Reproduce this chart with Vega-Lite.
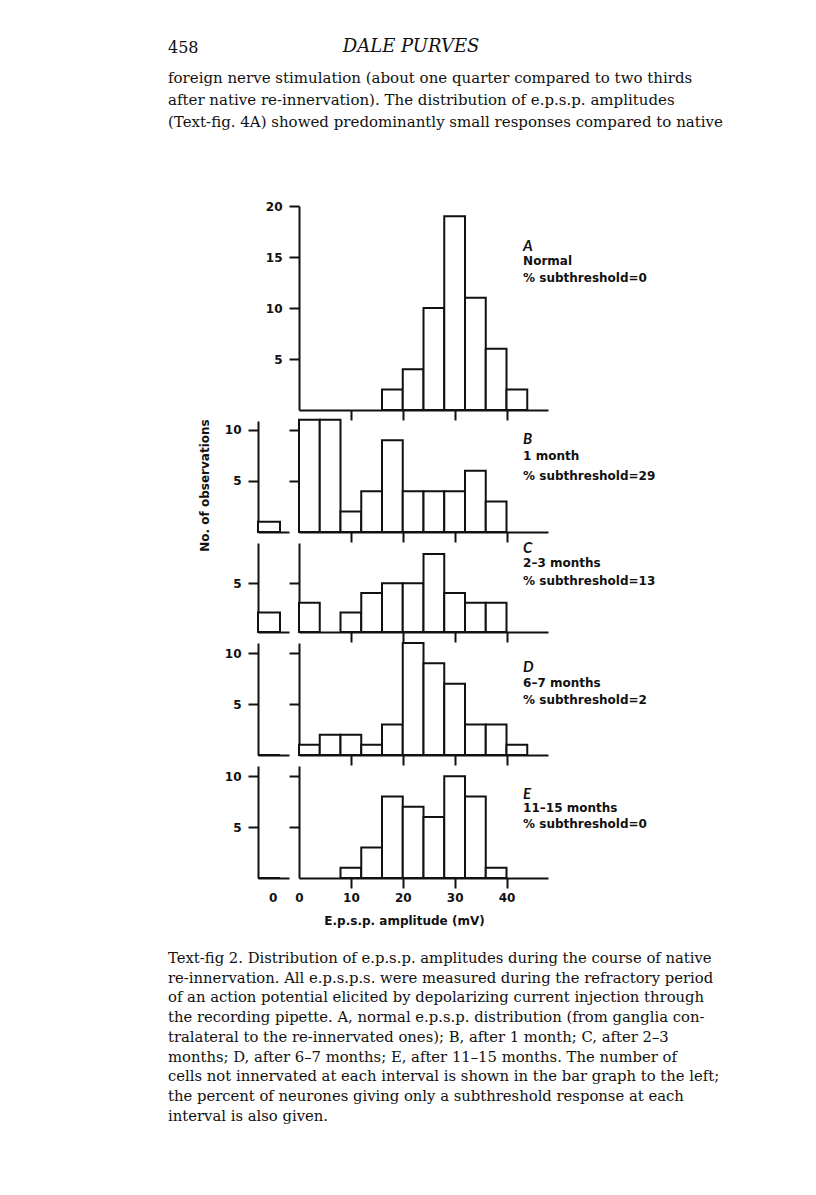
{
  "$schema": "https://vega.github.io/schema/vega-lite/v6.json",
  "background": "white",
  "padding": {"left": 168, "top": 38, "right": 10, "bottom": 10},
  "columns": 3,
  "bounds": "flush",
  "align": "each",
  "spacing": {"row": 11, "column": 10},
  "datasets": {
    "bars": [
      {"p": "A", "x0": 16, "x1": 20, "n": 2}, {"p": "A", "x0": 20, "x1": 24, "n": 4}, {"p": "A", "x0": 24, "x1": 28, "n": 10},
      {"p": "A", "x0": 28, "x1": 32, "n": 19}, {"p": "A", "x0": 32, "x1": 36, "n": 11}, {"p": "A", "x0": 36, "x1": 40, "n": 6},
      {"p": "A", "x0": 40, "x1": 44, "n": 2},
      {"p": "B", "x0": 0, "x1": 4, "n": 11}, {"p": "B", "x0": 4, "x1": 8, "n": 11}, {"p": "B", "x0": 8, "x1": 12, "n": 2},
      {"p": "B", "x0": 12, "x1": 16, "n": 4}, {"p": "B", "x0": 16, "x1": 20, "n": 9}, {"p": "B", "x0": 20, "x1": 24, "n": 4},
      {"p": "B", "x0": 24, "x1": 28, "n": 4}, {"p": "B", "x0": 28, "x1": 32, "n": 4}, {"p": "B", "x0": 32, "x1": 36, "n": 6},
      {"p": "B", "x0": 36, "x1": 40, "n": 3},
      {"p": "C", "x0": 0, "x1": 4, "n": 3}, {"p": "C", "x0": 8, "x1": 12, "n": 2}, {"p": "C", "x0": 12, "x1": 16, "n": 4},
      {"p": "C", "x0": 16, "x1": 20, "n": 5}, {"p": "C", "x0": 20, "x1": 24, "n": 5}, {"p": "C", "x0": 24, "x1": 28, "n": 8},
      {"p": "C", "x0": 28, "x1": 32, "n": 4}, {"p": "C", "x0": 32, "x1": 36, "n": 3}, {"p": "C", "x0": 36, "x1": 40, "n": 3},
      {"p": "D", "x0": 0, "x1": 4, "n": 1}, {"p": "D", "x0": 4, "x1": 8, "n": 2}, {"p": "D", "x0": 8, "x1": 12, "n": 2},
      {"p": "D", "x0": 12, "x1": 16, "n": 1}, {"p": "D", "x0": 16, "x1": 20, "n": 3}, {"p": "D", "x0": 20, "x1": 24, "n": 11},
      {"p": "D", "x0": 24, "x1": 28, "n": 9}, {"p": "D", "x0": 28, "x1": 32, "n": 7}, {"p": "D", "x0": 32, "x1": 36, "n": 3},
      {"p": "D", "x0": 36, "x1": 40, "n": 3}, {"p": "D", "x0": 40, "x1": 44, "n": 1},
      {"p": "E", "x0": 8, "x1": 12, "n": 1}, {"p": "E", "x0": 12, "x1": 16, "n": 3}, {"p": "E", "x0": 16, "x1": 20, "n": 8},
      {"p": "E", "x0": 20, "x1": 24, "n": 7}, {"p": "E", "x0": 24, "x1": 28, "n": 6}, {"p": "E", "x0": 28, "x1": 32, "n": 10},
      {"p": "E", "x0": 32, "x1": 36, "n": 8}, {"p": "E", "x0": 36, "x1": 40, "n": 1}
    ],
    "notinn": [
      {"p": "B", "x0": 0, "x1": 4, "n": 1},
      {"p": "C", "x0": 0, "x1": 4, "n": 2},
      {"p": "D", "x0": 0, "x1": 4, "n": 0},
      {"p": "E", "x0": 0, "x1": 4, "n": 0}
    ],
    "notes": [
      {"p": "A", "kind": "letter", "x": 43.2, "y": 16.08, "t": "A"},
      {"p": "A", "kind": "line", "x": 43.2, "y": 14.6, "t": "Normal"},
      {"p": "A", "kind": "line", "x": 43.2, "y": 12.97, "t": "% subthreshold=0"},
      {"p": "B", "kind": "letter", "x": 43.2, "y": 9.12, "t": "B"},
      {"p": "B", "kind": "line", "x": 43.2, "y": 7.45, "t": "1 month"},
      {"p": "B", "kind": "line", "x": 43.2, "y": 5.49, "t": "% subthreshold=29"},
      {"p": "C", "kind": "letter", "x": 43.2, "y": 8.66, "t": "C"},
      {"p": "C", "kind": "line", "x": 43.2, "y": 7.11, "t": "2–3 months"},
      {"p": "C", "kind": "line", "x": 43.2, "y": 5.24, "t": "% subthreshold=13"},
      {"p": "D", "kind": "letter", "x": 43.2, "y": 8.61, "t": "D"},
      {"p": "D", "kind": "line", "x": 43.2, "y": 7.08, "t": "6–7 months"},
      {"p": "D", "kind": "line", "x": 43.2, "y": 5.44, "t": "% subthreshold=2"},
      {"p": "E", "kind": "letter", "x": 43.2, "y": 8.24, "t": "E"},
      {"p": "E", "kind": "line", "x": 43.2, "y": 6.92, "t": "11–15 months"},
      {"p": "E", "kind": "line", "x": 43.2, "y": 5.29, "t": "% subthreshold=0"}
    ]
  },
  "concat": [
    {
      "width": 80,
      "height": 139,
      "layer": [
        {
          "data": {"values": [{"line": 0, "text": "458"}]},
          "mark": {"type": "text", "align": "left", "baseline": "bottom", "font": "DejaVu Serif", "fontSize": 16, "color": "#111"},
          "encoding": {
            "x": {"datum": 0, "type": "quantitative", "scale": {"domain": [0, 1], "range": [0, 532]}, "axis": null},
            "y": {"field": "line", "type": "quantitative", "scale": {"domain": [0, 6.318], "reverse": true, "nice": false}, "axis": null},
            "text": {"field": "text"}
          }
        },
        {
          "data": {"values": [{"line": 0, "text": "DALE PURVES"}]},
          "mark": {"type": "text", "align": "center", "baseline": "bottom", "font": "DejaVu Serif", "fontStyle": "italic", "fontSize": 18, "color": "#111"},
          "encoding": {
            "x": {"datum": 0.457, "type": "quantitative", "scale": {"domain": [0, 1], "range": [0, 532]}, "axis": null},
            "y": {"field": "line", "type": "quantitative", "scale": {"domain": [0, 6.318], "reverse": true, "nice": false}, "axis": null},
            "text": {"field": "text"}
          }
        },
        {
          "data": {"values": [
            {"line": 1, "text": "foreign nerve stimulation (about one quarter compared to two thirds"},
            {"line": 2, "text": "after native re-innervation). The distribution of e.p.s.p. amplitudes"},
            {"line": 3, "text": "(Text-fig. 4A) showed predominantly small responses compared to native"}
          ]},
          "mark": {"type": "text", "align": "left", "baseline": "middle", "font": "DejaVu Serif", "fontSize": 15, "color": "#111"},
          "encoding": {
            "x": {"datum": 0, "type": "quantitative", "scale": {"domain": [0, 1], "range": [0, 532]}, "axis": null},
            "y": {"field": "line", "type": "quantitative", "scale": {"domain": [0, 6.318], "reverse": true, "nice": false}, "axis": null},
            "text": {"field": "text"}
          }
        }
      ]
    },
    {"width": 31, "height": 1, "data": {"values": []}, "mark": "point"},
    {"width": 249, "height": 1, "data": {"values": []}, "mark": "point"},

    {"width": 80, "height": 1, "data": {"values": []}, "mark": "point"},
    {"width": 31, "height": 1, "data": {"values": []}, "mark": "point"},
    {
      "width": 249, "height": 204,
      "layer": [
        {
          "data": {"name": "bars"}, "transform": [{"filter": "datum.p === 'A'"}],
          "mark": {"type": "bar", "fill": "white", "stroke": "#111", "strokeWidth": 2},
          "encoding": {
            "x": {"field": "x0", "type": "quantitative", "scale": {"domain": [0, 48], "nice": false, "zero": false}, "axis": {"values": [10, 20, 30, 40], "labels": false, "title": null}},
            "x2": {"field": "x1"},
            "y": {"field": "n", "type": "quantitative", "scale": {"domain": [0, 20], "nice": false}, "axis": {"values": [5, 10, 15, 20], "title": null}},
            "y2": {"datum": 0}
          }
        },
        {
          "data": {"name": "notes"}, "transform": [{"filter": "datum.p === 'A' && datum.kind === 'letter'"}],
          "mark": {"type": "text", "align": "left", "baseline": "middle", "font": "Lato", "fontStyle": "italic", "fontWeight": "bold", "fontSize": 15, "color": "#111"},
          "encoding": {
            "x": {"field": "x", "type": "quantitative", "title": null},
            "y": {"field": "y", "type": "quantitative", "title": null},
            "text": {"field": "t"}
          }
        },
        {
          "data": {"name": "notes"}, "transform": [{"filter": "datum.p === 'A' && datum.kind === 'line'"}],
          "mark": {"type": "text", "align": "left", "baseline": "middle", "font": "DejaVu Sans", "fontWeight": "bold", "fontSize": 12, "color": "#111"},
          "encoding": {
            "x": {"field": "x", "type": "quantitative", "title": null},
            "y": {"field": "y", "type": "quantitative", "title": null},
            "text": {"field": "t"}
          }
        }
      ]
    },

    {"width": 80, "height": 1, "data": {"values": []}, "mark": "point"},
    {
      "width": 31, "height": 111,
      "data": {"name": "notinn"}, "transform": [{"filter": "datum.p === 'B'"}],
      "mark": {"type": "bar", "fill": "white", "stroke": "#111", "strokeWidth": 2},
      "encoding": {
        "x": {"field": "x0", "type": "quantitative", "scale": {"domain": [0, 5.64], "nice": false, "zero": false}, "axis": {"ticks": false, "labels": false, "title": null}},
        "x2": {"field": "x1"},
        "y": {"field": "n", "type": "quantitative", "scale": {"domain": [0, 10.88], "nice": false}, "axis": {"values": [5, 10], "title": "No. of observations", "titlePadding": 13, "titleY": 64}},
        "y2": {"datum": 0}
      }
    },
    {
      "width": 249, "height": 111,
      "layer": [
        {
          "data": {"name": "bars"}, "transform": [{"filter": "datum.p === 'B'"}],
          "mark": {"type": "bar", "fill": "white", "stroke": "#111", "strokeWidth": 2},
          "encoding": {
            "x": {"field": "x0", "type": "quantitative", "scale": {"domain": [0, 48], "nice": false, "zero": false}, "axis": {"values": [10, 20, 30, 40], "labels": false, "title": null}},
            "x2": {"field": "x1"},
            "y": {"field": "n", "type": "quantitative", "scale": {"domain": [0, 10.88], "nice": false}, "axis": {"values": [5, 10], "labels": false, "title": null}},
            "y2": {"datum": 0}
          }
        },
        {
          "data": {"name": "notes"}, "transform": [{"filter": "datum.p === 'B' && datum.kind === 'letter'"}],
          "mark": {"type": "text", "align": "left", "baseline": "middle", "font": "Lato", "fontStyle": "italic", "fontWeight": "bold", "fontSize": 15, "color": "#111"},
          "encoding": {
            "x": {"field": "x", "type": "quantitative", "title": null},
            "y": {"field": "y", "type": "quantitative", "title": null},
            "text": {"field": "t"}
          }
        },
        {
          "data": {"name": "notes"}, "transform": [{"filter": "datum.p === 'B' && datum.kind === 'line'"}],
          "mark": {"type": "text", "align": "left", "baseline": "middle", "font": "DejaVu Sans", "fontWeight": "bold", "fontSize": 12, "color": "#111"},
          "encoding": {
            "x": {"field": "x", "type": "quantitative", "title": null},
            "y": {"field": "y", "type": "quantitative", "title": null},
            "text": {"field": "t"}
          }
        }
      ]
    },

    {"width": 80, "height": 1, "data": {"values": []}, "mark": "point"},
    {
      "width": 31, "height": 89,
      "data": {"name": "notinn"}, "transform": [{"filter": "datum.p === 'C'"}],
      "mark": {"type": "bar", "fill": "white", "stroke": "#111", "strokeWidth": 2},
      "encoding": {
        "x": {"field": "x0", "type": "quantitative", "scale": {"domain": [0, 5.64], "nice": false, "zero": false}, "axis": {"ticks": false, "labels": false, "title": null}},
        "x2": {"field": "x1"},
        "y": {"field": "n", "type": "quantitative", "scale": {"domain": [0, 9.14], "nice": false}, "axis": {"values": [5], "title": null}},
        "y2": {"datum": 0}
      }
    },
    {
      "width": 249, "height": 89,
      "layer": [
        {
          "data": {"name": "bars"}, "transform": [{"filter": "datum.p === 'C'"}],
          "mark": {"type": "bar", "fill": "white", "stroke": "#111", "strokeWidth": 2},
          "encoding": {
            "x": {"field": "x0", "type": "quantitative", "scale": {"domain": [0, 48], "nice": false, "zero": false}, "axis": {"values": [10, 20, 30, 40], "labels": false, "title": null}},
            "x2": {"field": "x1"},
            "y": {"field": "n", "type": "quantitative", "scale": {"domain": [0, 9.14], "nice": false}, "axis": {"values": [5], "labels": false, "title": null}},
            "y2": {"datum": 0}
          }
        },
        {
          "data": {"name": "notes"}, "transform": [{"filter": "datum.p === 'C' && datum.kind === 'letter'"}],
          "mark": {"type": "text", "align": "left", "baseline": "middle", "font": "Lato", "fontStyle": "italic", "fontWeight": "bold", "fontSize": 15, "color": "#111"},
          "encoding": {
            "x": {"field": "x", "type": "quantitative", "title": null},
            "y": {"field": "y", "type": "quantitative", "title": null},
            "text": {"field": "t"}
          }
        },
        {
          "data": {"name": "notes"}, "transform": [{"filter": "datum.p === 'C' && datum.kind === 'line'"}],
          "mark": {"type": "text", "align": "left", "baseline": "middle", "font": "DejaVu Sans", "fontWeight": "bold", "fontSize": 12, "color": "#111"},
          "encoding": {
            "x": {"field": "x", "type": "quantitative", "title": null},
            "y": {"field": "y", "type": "quantitative", "title": null},
            "text": {"field": "t"}
          }
        }
      ]
    },

    {"width": 80, "height": 1, "data": {"values": []}, "mark": "point"},
    {
      "width": 31, "height": 112,
      "data": {"name": "notinn"}, "transform": [{"filter": "datum.p === 'D'"}],
      "mark": {"type": "bar", "fill": "white", "stroke": "#111", "strokeWidth": 2},
      "encoding": {
        "x": {"field": "x0", "type": "quantitative", "scale": {"domain": [0, 5.64], "nice": false, "zero": false}, "axis": {"ticks": false, "labels": false, "title": null}},
        "x2": {"field": "x1"},
        "y": {"field": "n", "type": "quantitative", "scale": {"domain": [0, 11], "nice": false}, "axis": {"values": [5, 10], "title": null}},
        "y2": {"datum": 0}
      }
    },
    {
      "width": 249, "height": 112,
      "layer": [
        {
          "data": {"name": "bars"}, "transform": [{"filter": "datum.p === 'D'"}],
          "mark": {"type": "bar", "fill": "white", "stroke": "#111", "strokeWidth": 2},
          "encoding": {
            "x": {"field": "x0", "type": "quantitative", "scale": {"domain": [0, 48], "nice": false, "zero": false}, "axis": {"values": [10, 20, 30, 40], "labels": false, "title": null}},
            "x2": {"field": "x1"},
            "y": {"field": "n", "type": "quantitative", "scale": {"domain": [0, 11], "nice": false}, "axis": {"values": [5, 10], "labels": false, "title": null}},
            "y2": {"datum": 0}
          }
        },
        {
          "data": {"name": "notes"}, "transform": [{"filter": "datum.p === 'D' && datum.kind === 'letter'"}],
          "mark": {"type": "text", "align": "left", "baseline": "middle", "font": "Lato", "fontStyle": "italic", "fontWeight": "bold", "fontSize": 15, "color": "#111"},
          "encoding": {
            "x": {"field": "x", "type": "quantitative", "title": null},
            "y": {"field": "y", "type": "quantitative", "title": null},
            "text": {"field": "t"}
          }
        },
        {
          "data": {"name": "notes"}, "transform": [{"filter": "datum.p === 'D' && datum.kind === 'line'"}],
          "mark": {"type": "text", "align": "left", "baseline": "middle", "font": "DejaVu Sans", "fontWeight": "bold", "fontSize": 12, "color": "#111"},
          "encoding": {
            "x": {"field": "x", "type": "quantitative", "title": null},
            "y": {"field": "y", "type": "quantitative", "title": null},
            "text": {"field": "t"}
          }
        }
      ]
    },

    {"width": 80, "height": 1, "data": {"values": []}, "mark": "point"},
    {
      "width": 31, "height": 112,
      "data": {"name": "notinn"}, "transform": [{"filter": "datum.p === 'E'"}],
      "mark": {"type": "bar", "fill": "white", "stroke": "#111", "strokeWidth": 2},
      "encoding": {
        "x": {"field": "x0", "type": "quantitative", "scale": {"domain": [0, 5.64], "nice": false, "zero": false}, "axis": {"values": [2.67], "labelExpr": "'0'", "tickColor": "transparent", "title": null}},
        "x2": {"field": "x1"},
        "y": {"field": "n", "type": "quantitative", "scale": {"domain": [0, 11], "nice": false}, "axis": {"values": [5, 10], "title": null}},
        "y2": {"datum": 0}
      }
    },
    {
      "width": 249, "height": 112,
      "layer": [
        {
          "data": {"name": "bars"}, "transform": [{"filter": "datum.p === 'E'"}],
          "mark": {"type": "bar", "fill": "white", "stroke": "#111", "strokeWidth": 2},
          "encoding": {
            "x": {"field": "x0", "type": "quantitative", "scale": {"domain": [0, 48], "nice": false, "zero": false}, "axis": {"values": [0, 10, 20, 30, 40], "tickOpacity": {"condition": {"test": "datum.value === 0", "value": 0}, "value": 1}, "title": "E.p.s.p. amplitude (mV)", "titleX": 105, "titlePadding": 12}},
            "x2": {"field": "x1"},
            "y": {"field": "n", "type": "quantitative", "scale": {"domain": [0, 11], "nice": false}, "axis": {"values": [5, 10], "labels": false, "title": null}},
            "y2": {"datum": 0}
          }
        },
        {
          "data": {"name": "notes"}, "transform": [{"filter": "datum.p === 'E' && datum.kind === 'letter'"}],
          "mark": {"type": "text", "align": "left", "baseline": "middle", "font": "Lato", "fontStyle": "italic", "fontWeight": "bold", "fontSize": 15, "color": "#111"},
          "encoding": {
            "x": {"field": "x", "type": "quantitative"},
            "y": {"field": "y", "type": "quantitative", "title": null},
            "text": {"field": "t"}
          }
        },
        {
          "data": {"name": "notes"}, "transform": [{"filter": "datum.p === 'E' && datum.kind === 'line'"}],
          "mark": {"type": "text", "align": "left", "baseline": "middle", "font": "DejaVu Sans", "fontWeight": "bold", "fontSize": 12, "color": "#111"},
          "encoding": {
            "x": {"field": "x", "type": "quantitative"},
            "y": {"field": "y", "type": "quantitative", "title": null},
            "text": {"field": "t"}
          }
        }
      ]
    },

    {
      "width": 80,
      "height": 228,
      "data": {"values": [
        {"line": 0, "text": "Text-fig 2. Distribution of e.p.s.p. amplitudes during the course of native"},
        {"line": 1, "text": "re-innervation. All e.p.s.p.s. were measured during the refractory period"},
        {"line": 2, "text": "of an action potential elicited by depolarizing current injection through"},
        {"line": 3, "text": "the recording pipette. A, normal e.p.s.p. distribution (from ganglia con-"},
        {"line": 4, "text": "tralateral to the re-innervated ones); B, after 1 month; C, after 2–3"},
        {"line": 5, "text": "months; D, after 6–7 months; E, after 11–15 months. The number of"},
        {"line": 6, "text": "cells not innervated at each interval is shown in the bar graph to the left;"},
        {"line": 7, "text": "the percent of neurones giving only a subthreshold response at each"},
        {"line": 8, "text": "interval is also given."}
      ]},
      "mark": {"type": "text", "align": "left", "baseline": "middle", "font": "DejaVu Serif", "fontSize": 14.8, "color": "#111"},
      "encoding": {
        "x": {"datum": 0, "type": "quantitative", "scale": {"domain": [0, 1], "range": [0, 544]}, "axis": null},
        "y": {"field": "line", "type": "quantitative", "scale": {"domain": [-3.544, 8], "reverse": true, "nice": false}, "axis": null},
        "text": {"field": "text"}
      }
    },
    {"width": 31, "height": 1, "data": {"values": []}, "mark": "point"},
    {"width": 249, "height": 1, "data": {"values": []}, "mark": "point"}
  ],
  "config": {
    "view": {"stroke": null},
    "axis": {
      "domainColor": "#111", "domainWidth": 2, "tickColor": "#111", "tickWidth": 2, "tickSize": 10,
      "labelFont": "DejaVu Sans", "labelFontWeight": "bold", "labelFontSize": 12, "labelColor": "#111",
      "titleFont": "DejaVu Sans", "titleFontWeight": "bold", "titleFontSize": 12, "titleColor": "#111",
      "grid": false, "zindex": 1, "labelFlush": false, "labelOverlap": false
    },
    "axisY": {"labelPadding": 7},
    "axisX": {"labelPadding": 4}
  }
}
